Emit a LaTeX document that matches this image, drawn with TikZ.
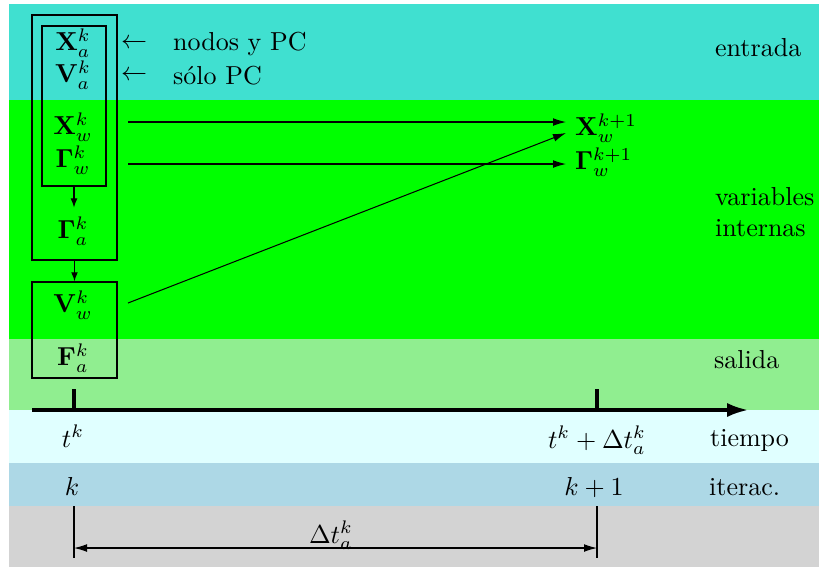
\documentclass[tikz,border=0pt]{standalone}
\usepackage{amsmath,amssymb}
\usepackage{tikz}
\usetikzlibrary{positioning,arrows.meta,calc,fit}
\definecolor{entradac}{HTML}{40E0D0}
\definecolor{internac}{HTML}{00FF00}
\definecolor{salidac}{HTML}{90EE90}
\definecolor{tiempoc}{HTML}{E0FFFF}
\definecolor{iterc}{HTML}{ADD8E6}
\definecolor{pasoc}{HTML}{D3D3D3}
\newcommand{\banda}[3]{%
  \fill[#3] (9,#1) rectangle (819,#2);
}

\begin{document}
\begin{tikzpicture}[x=0.3846pt,y=-0.3846pt,
  caja/.style={draw,line width=0.5pt,inner sep=0pt},
  flechita/.style={-{Latex[length=3.5pt,width=2.6pt]},line width=0.4pt},
  flecha/.style={-{Latex[length=5pt,width=3pt]},line width=0.4pt},
  eje/.style={-{Latex[length=8pt,width=5.4pt]},line width=1.2pt},
  cota/.style={{Latex[length=5pt,width=3pt]}-{Latex[length=5pt,width=3pt]},line width=0.4pt}]
  \useasboundingbox (0,0) rectangle (819,568);
  \banda{4}{100}{entradac}
  \banda{100}{339}{internac}
  \banda{339}{410}{salidac}
  \banda{410}{463}{tiempoc}
  \banda{463}{506}{iterc}
  \banda{506}{567}{pasoc}
  \node (xa) at (73,43) {$\mathbf{X}^k_a$};
  \node (va) at (73,75) {$\mathbf{V}^k_a$};
  \node (xw) at (73,127) {$\mathbf{X}^k_w$};
  \node (gw) at (73,160) {$\mathbf{\Gamma}^k_w$};
  \node (ga) at (73,231) {$\mathbf{\Gamma}^k_a$};
  \node (vw) at (73,305) {$\mathbf{V}^k_w$};
  \node (fa) at (73,358) {$\mathbf{F}^k_a$};
  \node[caja,fit={(42,26) (106,186)}] (inbox) {};
  \node[caja,fit={(32,15) (117,260)}] (outbox) {};
  \node[caja,fit={(32,282) (117,378)}] (lowbox) {};
  \draw[flechita] (inbox.south) -- (inbox.south |- ga.north);
  \draw[flechita] (outbox.south) -- (lowbox.north);
  \node (la1) at (134,44) {$\leftarrow$};
  \node (la2) at (134,76) {$\leftarrow$};
  \node[anchor=west] (nodos) at (164,44) {nodos y PC};
  \node[anchor=west] (solo) at (164,76) {sólo PC};
  \node[anchor=west] (xwn) at (566,128) {$\mathbf{X}^{k+1}_w$};
  \node[anchor=west] (gwn) at (566,162) {$\mathbf{\Gamma}^{k+1}_w$};
  \coordinate (s1) at (128,122);
  \coordinate (s2) at (128,164);
  \coordinate (s3) at (128,303);
  \draw[flecha] (s1) -- (s1 -| xwn.west);
  \draw[flecha] (s2) -- (s2 -| gwn.west);
  \draw[flecha] (s3) -- ($(xwn.west)+(0,5)$);
  \node[anchor=west] (entrada) at (706,48) {entrada};
  \node[anchor=west,align=left] (internas) at (706,212) {variables\\internas};
  \node[anchor=west] (salida) at (705,360) {salida};
  \node[anchor=west] (tiempo) at (701,440) {tiempo};
  \node[anchor=west] (iterac) at (700,487) {iterac.};
  \coordinate (t0) at (32,410);
  \coordinate (tf) at (748,410);
  \draw[eje] (t0) -- (tf);
  \foreach \x/\n in {74/ta,597/tb} {
    \coordinate (\n) at (\x,410);
    \draw[line width=1.2pt] (\n) -- ++(0,-21);
    \draw[line width=0.4pt] (\x,506) -- (\x,558);
  }
  \node[anchor=base] (tk) at (73,447) {$t^k$};
  \node[anchor=base] (tk1) at (597,448) {$t^k+\Delta t^k_a$};
  \node[anchor=base] (k) at (72,495) {$k$};
  \node[anchor=base] (k1) at (594,495) {$k+1$};
  \coordinate (c0) at (74,548);
  \coordinate (c1) at (597,548);
  \draw[cota] (c0) -- (c1);
  \node[anchor=base] (dt) at (331,543) {$\Delta t^k_a$};
\end{tikzpicture}
\end{document}
